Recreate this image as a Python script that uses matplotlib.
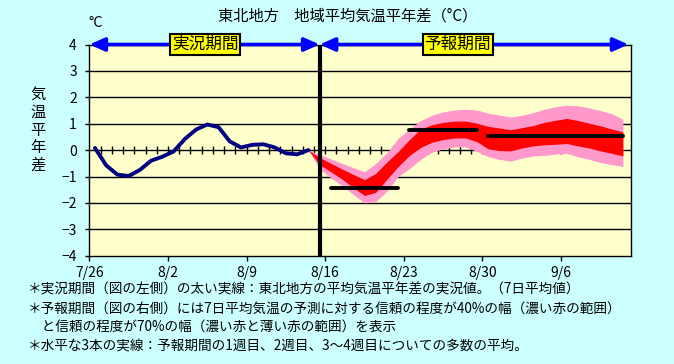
import numpy as np
import matplotlib
matplotlib.use("Agg")
import matplotlib.pyplot as plt

plt.rcParams['font.family'] = ['Noto Sans CJK JP', 'DejaVu Sans']

# 日付ラベル (週ごと)
tick_labels = ['7/26', '8/2', '8/9', '8/16', '8/23', '8/30', '9/6']

# 実況 (7日平均気温平年差) 7/26 から 1日ごと
obs = [0.08, -0.58, -0.93, -0.98, -0.75, -0.40, -0.25, -0.05, 0.42, 0.78,
       0.97, 0.87, 0.33, 0.10, 0.20, 0.22, 0.10, -0.12, -0.16, 0.00]

# 予報 (実況最終日から) 70%幅と40%幅
pink_hi = [0.00, -0.17, -0.33, -0.50, -0.66, -0.82, -0.50, -0.10, 0.45, 0.80,
           1.12, 1.32, 1.45, 1.52, 1.55, 1.52, 1.40, 1.33, 1.25, 1.32,
           1.42, 1.55, 1.64, 1.70, 1.68, 1.60, 1.50, 1.38, 1.17]
red_hi = [0.00, -0.28, -0.50, -0.72, -0.92, -1.12, -0.88, -0.45, -0.05, 0.40,
          0.80, 0.96, 1.05, 1.10, 1.10, 1.02, 0.90, 0.84, 0.77, 0.85,
          0.93, 1.05, 1.13, 1.20, 1.12, 1.02, 0.92, 0.80, 0.69]
red_lo = [0.00, -0.55, -0.82, -1.10, -1.42, -1.72, -1.60, -1.10, -0.62, -0.20,
          0.10, 0.30, 0.40, 0.46, 0.46, 0.32, 0.05, -0.02, -0.03, 0.08,
          0.16, 0.20, 0.22, 0.25, 0.16, 0.08, -0.03, -0.12, -0.22]
pink_lo = [0.00, -0.72, -1.05, -1.35, -1.68, -2.00, -1.95, -1.55, -1.00, -0.70,
           -0.35, -0.08, 0.05, 0.12, 0.12, -0.05, -0.25, -0.35, -0.42, -0.30,
           -0.22, -0.20, -0.15, -0.12, -0.25, -0.35, -0.47, -0.55, -0.62]

# 1週目、2週目、3～4週目の平均 (開始日, 終了日, 値)
week_start = [21, 28, 35]
week_end = [27, 34, 47]
week_mean = [-1.42, 0.78, 0.53]

obs_x = np.arange(len(obs)) + 0.5
fc_x = np.arange(len(obs) - 1, len(obs) - 1 + len(pink_hi)) + 0.5
split = len(obs) + 0.5   # 実況と予報の境目

fig = plt.figure(figsize=(6.74, 3.64), dpi=100)
fig.patch.set_facecolor('#CCFFFF')
ax = fig.add_axes([0.1326, 0.2975, 0.8032, 0.5802])
ax.set_facecolor('#FFFFCC')

# 横線
for v in range(-3, 4):
    ax.axhline(v, color='k', lw=1, zorder=1)
# 0線の目盛り
ax.vlines(np.arange(1, 48), -0.15, 0.15, color='k', lw=1, zorder=1)

ax.fill_between(fc_x, pink_lo, pink_hi, color='#FF99CC', lw=0, zorder=2)
ax.fill_between(fc_x, red_lo, red_hi, color='#FF0000', lw=0, zorder=2.5)

ax.plot(obs_x, obs, color='#000080', lw=2.8, solid_capstyle='round', zorder=3)

for s, e, m in zip(week_start, week_end, week_mean):
    ax.plot([s + 0.5, e + 0.5], [m, m], color='k', lw=2.8,
            solid_capstyle='round', zorder=4)

ax.axvline(split, color='k', lw=3, zorder=5)

ax.set_xlim(0, 48.2)
ax.set_ylim(-4, 4)
ax.set_yticks(range(-4, 5))
ax.set_xticks(np.arange(len(tick_labels)) * 7)
ax.set_xticklabels(tick_labels)
ax.tick_params(axis='x', direction='out', length=3.5, width=1, labelsize=10, pad=4)
ax.tick_params(axis='y', direction='out', length=3, width=1, labelsize=10, pad=6)
for sp in ax.spines.values():
    sp.set_color('k')
    sp.set_linewidth(1)

# 期間の矢印
arrow = dict(arrowstyle='<|-|>,head_length=0.9,head_width=0.4', color='#0000FF',
             lw=2.6, mutation_scale=10, shrinkA=0, shrinkB=0)
ax.annotate('', xy=(0, 4), xytext=(split, 4), arrowprops=arrow,
            annotation_clip=False, zorder=6)
ax.annotate('', xy=(split, 4), xytext=(48.0, 4), arrowprops=arrow,
            annotation_clip=False, zorder=6)
box = dict(boxstyle='square,pad=0.12', fc='#FFFF00', ec='k', lw=1.5)
ax.text(10.3, 4, '実況期間', ha='center', va='center', fontsize=12,
        bbox=box, zorder=7)
ax.text(32.8, 4, '予報期間', ha='center', va='center', fontsize=12,
        bbox=box, zorder=7)

fig.text(348 / 674, 1 - 16 / 364, '東北地方\u3000地域平均気温平年差（°C）',
         ha='center', va='center', fontsize=11)
fig.text(96 / 674, 1 - 23 / 364, '°C', ha='center', va='center', fontsize=10.5)
fig.text(38 / 674, 1 - 130 / 364, '気\n温\n平\n年\n差', ha='center',
         va='center', fontsize=11, linespacing=1.05)

notes = ['＊実況期間（図の左側）の太い実線：東北地方の平均気温平年差の実況値。（7日平均値）',
         '＊予報期間（図の右側）には7日平均気温の予測に対する信頼の程度が40%の幅（濃い赤の範囲）',
         '\u3000と信頼の程度が70%の幅（濃い赤と薄い赤の範囲）を表示',
         '＊水平な3本の実線：予報期間の1週目、2週目、3～4週目についての多数の平均。']
for k, t in enumerate(notes):
    fig.text(28 / 674, 1 - (290 + 18.5 * k) / 364, t, ha='left', va='center',
             fontsize=9.8)

fig.savefig('out.png', dpi=100, facecolor=fig.get_facecolor())
